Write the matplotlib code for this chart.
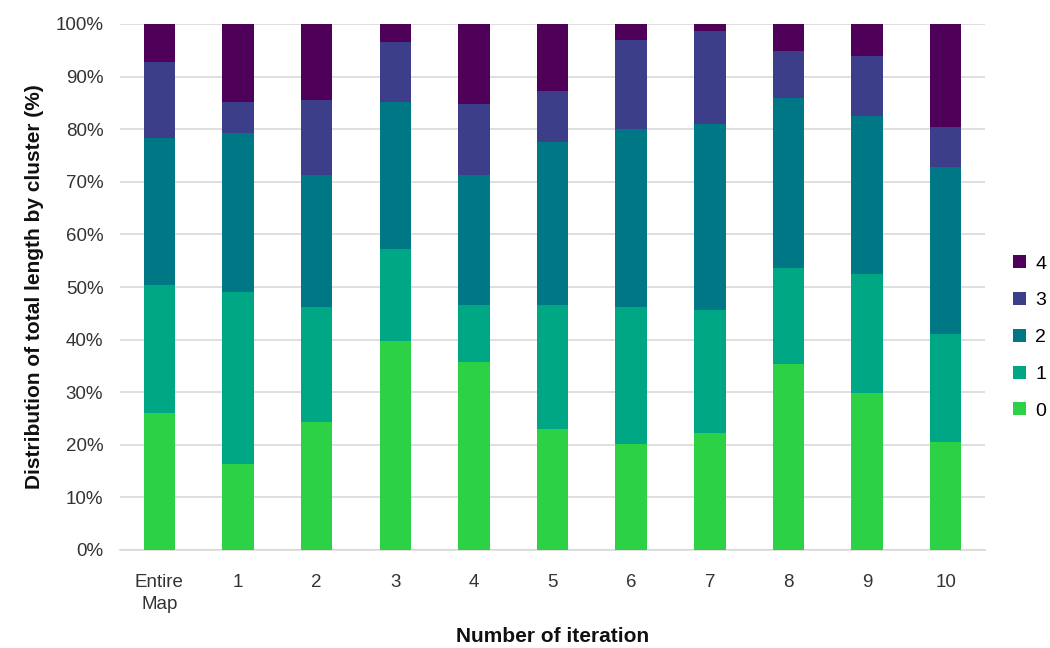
import matplotlib
matplotlib.use("Agg")
import matplotlib.pyplot as plt
import numpy as np

plt.rcParams['font.family'] = ['Liberation Sans', 'DejaVu Sans']

categories = ["Entire\nMap", "1", "2", "3", "4", "5", "6", "7", "8", "9", "10"]
# cumulative tops (%)
cum0 = [26.1, 16.3, 24.3, 39.7, 35.8, 23.0, 20.1, 22.3, 35.4, 29.9, 20.5]
cum1 = [50.3, 49.1, 46.2, 57.3, 46.5, 46.5, 46.2, 45.7, 53.7, 52.5, 41.0]
cum2 = [78.4, 79.2, 71.2, 85.2, 71.2, 77.5, 80.0, 80.9, 86.0, 82.6, 72.9]
cum3 = [92.8, 85.1, 85.6, 96.6, 84.7, 87.3, 97.0, 98.7, 94.9, 94.0, 80.5]

c0 = np.array(cum0)
c1 = np.array(cum1) - c0
c2 = np.array(cum2) - np.array(cum1)
c3 = np.array(cum3) - np.array(cum2)
c4 = 100 - np.array(cum3)
series = [c0, c1, c2, c3, c4]
labels = ["0", "1", "2", "3", "4"]
colors = ["#2dd145", "#00a784", "#007785", "#3d3e8a", "#4f0058"]

fig = plt.figure(figsize=(10.5, 6.48), dpi=100)
ax = fig.add_axes([120/1050, (648-550)/648, (985-120)/1050, (550-24)/648])

x = np.arange(len(categories))
bottom = np.zeros(len(categories))
handles = []
for vals, lab, col in zip(series, labels, colors):
    h = ax.bar(x, vals, bottom=bottom, width=0.4, color=col, label=lab, zorder=3)
    handles.append(h)
    bottom += vals

ax.set_xlim(-0.5, len(categories) - 0.5)
ax.set_ylim(0, 100)
ax.set_yticks(np.arange(0, 101, 10))
ax.set_yticklabels([f"{v}%" for v in range(0, 101, 10)], fontsize=13.5, color="#333333")
ax.set_xticks(x)
ax.set_xticklabels(categories, fontsize=13.5, color="#333333", linespacing=1.4)
ax.tick_params(axis='y', length=0, pad=12)
ax.tick_params(axis='x', length=0, pad=17)
ax.grid(axis='y', color="#d9d9d9", linewidth=1.2, zorder=0)
for s in ["top", "right", "left"]:
    ax.spines[s].set_visible(False)
ax.spines["bottom"].set_color("#d9d9d9")
ax.spines["bottom"].set_linewidth(1.2)

ax.set_ylabel("Distribution of total length by cluster (%)", fontsize=15,
              fontweight='bold', color="#111111", labelpad=8)
ax.set_xlabel("Number of iteration", fontsize=15, fontweight='bold',
              color="#111111", labelpad=10)

leg = ax.legend(handles[::-1], labels[::-1], loc='center left',
                bbox_to_anchor=(1 + (1013 - 985) / 865, (550 - 337.5) / 526),
                frameon=False, fontsize=14, borderpad=0, borderaxespad=0,
                handlelength=0.65, handleheight=0.65, handletextpad=0.5,
                labelspacing=1.0)

fig.savefig("out.png", dpi=100)
